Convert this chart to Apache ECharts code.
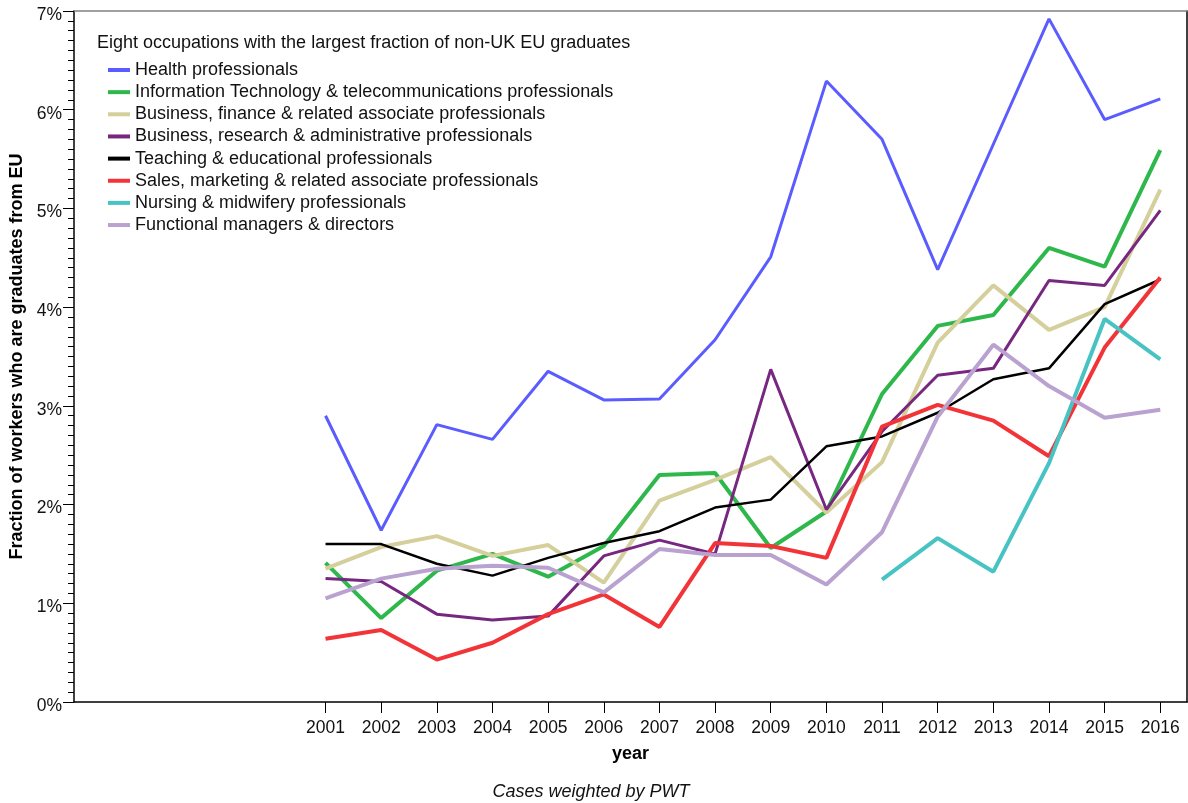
<!DOCTYPE html>
<html>
<head>
<meta charset="utf-8">
<script src="https://cdn.jsdelivr.net/npm/echarts@6/dist/echarts.min.js"></script>
<style>
html,body{margin:0;padding:0;background:#fff;}
#chart{width:1188px;height:803px;}
</style>
</head>
<body>
<div id="chart"></div>
<script>
const YEARS = [2001,2002,2003,2004,2005,2006,2007,2008,2009,2010,2011,2012,2013,2014,2015,2016];
const NURSING_YEARS = [2011,2012,2013,2014,2015,2016];
const Y_TICKS = [0,1,2,3,4,5,6,7];

const health   = [2.90,1.74,2.81,2.66,3.35,3.06,3.07,3.67,4.51,6.29,5.70,4.38,5.65,6.92,5.90,6.11];
const itTelecom= [1.41,0.85,1.33,1.50,1.27,1.58,2.30,2.32,1.56,1.93,3.12,3.81,3.92,4.60,4.41,5.59];
const busFin   = [1.35,1.57,1.68,1.48,1.59,1.21,2.04,2.25,2.48,1.92,2.43,3.64,4.22,3.77,4.00,5.19];
const busRes   = [1.25,1.22,0.89,0.83,0.87,1.48,1.64,1.50,3.37,1.95,2.74,3.31,3.38,4.27,4.22,4.98];
const teaching = [1.60,1.60,1.40,1.28,1.46,1.61,1.73,1.97,2.05,2.59,2.69,2.93,3.27,3.38,4.03,4.28];
const sales    = [0.64,0.73,0.43,0.60,0.89,1.09,0.76,1.61,1.58,1.46,2.79,3.01,2.85,2.49,3.59,4.30];
const nursing  = [1.24,1.66,1.32,2.42,3.88,3.47];
const managers = [1.05,1.25,1.35,1.38,1.36,1.11,1.55,1.49,1.49,1.19,1.72,2.89,3.62,3.20,2.88,2.96];

const NAMES = [
  'Health professionals',
  'Information Technology & telecommunications professionals',
  'Business, finance & related associate professionals',
  'Business, research & administrative professionals',
  'Teaching & educational professionals',
  'Sales, marketing & related associate professionals',
  'Nursing & midwifery professionals',
  'Functional managers & directors'
];
const COLORS = ['#5B5CFF','#2EB84B','#D5CF9C','#77277F','#000000','#F23439','#47C3C3','#B9A2CF'];
const WIDTHS = [3,4,4,3,2.5,4,4,4];
const VALUES = [health,itTelecom,busFin,busRes,teaching,sales,nursing,managers];
const XS = [YEARS,YEARS,YEARS,YEARS,YEARS,YEARS,NURSING_YEARS,YEARS];

const FONT = '"Liberation Sans", Arial, Helvetica, sans-serif';

const series = NAMES.map((n,i)=>({
  name:n,
  type:'line',
  xAxisIndex:0, yAxisIndex:0,
  data: VALUES[i].map((v,j)=>[XS[i][j], v]),
  showSymbol:false,
  symbol:'none',
  itemStyle:{color:COLORS[i]},
  lineStyle:{color:COLORS[i], width:WIDTHS[i]},
  z: 2+i,
  animation:false
}));

const chart = echarts.init(document.getElementById('chart'));
chart.setOption({
  animation:false,
  backgroundColor:'#fff',
  textStyle:{fontFamily:FONT},
  title:[
    {text:'Eight occupations with the largest fraction of non-UK EU graduates',
     left:97, top:34, padding:0,
     textStyle:{fontSize:18, fontWeight:'normal', color:'#111', fontFamily:FONT, lineHeight:18}},
    {text:'Cases weighted by PWT', left:591, top:783, textAlign:'center', padding:0,
     textStyle:{fontSize:18, fontWeight:'normal', fontStyle:'italic', color:'#111', fontFamily:FONT, lineHeight:18}}
  ],
  legend:{
    orient:'vertical', left:108, top:61, padding:0,
    icon:'rect', itemWidth:22, itemHeight:4, itemGap:4.15,
    textStyle:{fontSize:18, color:'#111', fontFamily:FONT, lineHeight:18},
    data:NAMES,
    selectedMode:false
  },
  grid:{left:74, right:1, top:11, bottom:101, show:false,
        containLabel:false, outerBoundsMode:'none'},
  xAxis:[{
    type:'value', min:1996.48, max:2016.48,
    name:'year', nameLocation:'middle', nameGap:43,
    nameTextStyle:{fontSize:18, fontWeight:'bold', color:'#000', fontFamily:FONT},
    axisLine:{show:true, onZero:false, lineStyle:{color:'#000', width:1.5}},
    axisTick:{show:true, length:11, customValues:YEARS, lineStyle:{color:'#000'}},
    axisLabel:{customValues:YEARS, formatter:v=>String(v), fontSize:17.5, color:'#111', margin:17, fontFamily:FONT},
    splitLine:{show:false}
  },{
    type:'value', position:'top', min:1996.48, max:2016.48,
    axisLine:{show:true, onZero:false, lineStyle:{color:'#808080', width:1.5}},
    axisTick:{show:false}, axisLabel:{show:false}, splitLine:{show:false}
  }],
  yAxis:[{
    type:'value', min:0, max:7, interval:1,
    name:'Fraction of workers who are graduates from EU', nameLocation:'middle', nameGap:47,
    nameTextStyle:{fontSize:18, fontWeight:'bold', color:'#000', fontFamily:FONT},
    axisLine:{show:true, lineStyle:{color:'#000', width:1.5}},
    axisTick:{show:true, length:11, lineStyle:{color:'#000'}},
    minorTick:{show:true, splitNumber:10, length:6, lineStyle:{color:'#000'}},
    axisLabel:{formatter:v=>Y_TICKS.includes(v)? v+'%':'', fontSize:17.5, color:'#111', margin:12,
               verticalAlign:'top', lineHeight:8, fontFamily:FONT},
    splitLine:{show:false}
  },{
    type:'value', position:'right', min:0, max:7, interval:1,
    axisLine:{show:true, onZero:false, lineStyle:{color:'#000', width:1.5}},
    axisTick:{show:false}, axisLabel:{show:false}, splitLine:{show:false}
  }],
  series:series
});
</script>
</body>
</html>
